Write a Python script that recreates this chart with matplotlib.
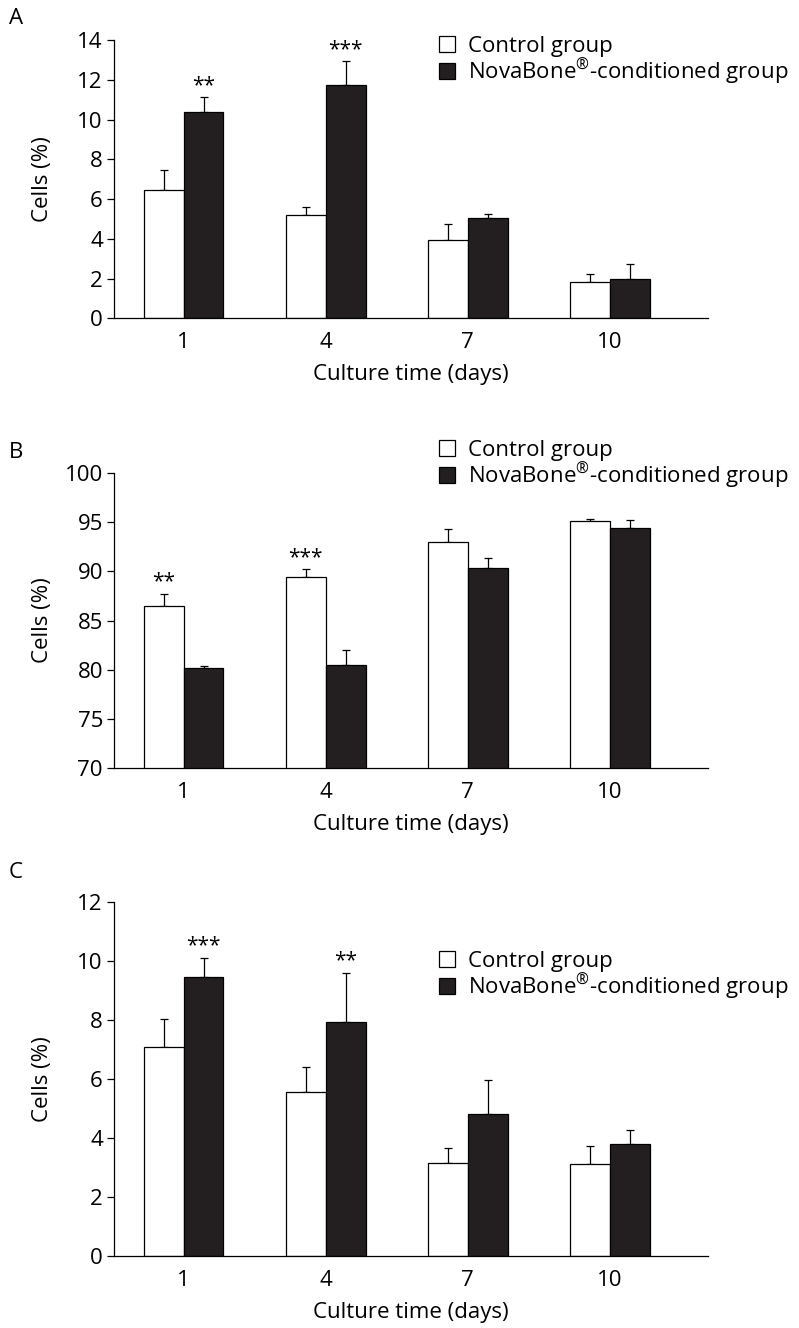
import matplotlib.pyplot as plt
import numpy as np

plt.rcParams['font.family'] = 'Open Sans'
plt.rcParams['mathtext.fontset'] = 'custom'
plt.rcParams['mathtext.rm'] = 'Open Sans'
plt.rcParams['mathtext.it'] = 'Open Sans'
plt.rcParams['font.size'] = 16

days = ['1', '4', '7', '10']

# panel A
a_ctrl = [6.45, 5.20, 3.94, 1.84]
a_ctrl_err = [0.99, 0.38, 0.79, 0.37]
a_nova = [10.39, 11.72, 5.03, 1.98]
a_nova_err = [0.73, 1.21, 0.20, 0.74]
a_stars = {('nova', 0): '**', ('nova', 1): '***'}

# panel B
b_ctrl = [86.5, 89.4, 93.0, 95.15]
b_ctrl_err = [1.2, 0.8, 1.3, 0.2]
b_nova = [80.2, 80.5, 90.4, 94.4]
b_nova_err = [0.15, 1.5, 1.0, 0.8]
b_stars = {('ctrl', 0): '**', ('ctrl', 1): '***'}

# panel C
c_ctrl = [7.08, 5.55, 3.14, 3.11]
c_ctrl_err = [0.96, 0.87, 0.51, 0.62]
c_nova = [9.48, 7.95, 4.81, 3.81]
c_nova_err = [0.64, 1.66, 1.16, 0.45]
c_stars = {('nova', 0): '***', ('nova', 1): '**'}

W, H = 799, 1328
fig = plt.figure(figsize=(W / 100, H / 100), dpi=100)

dark = '#231f20'
bw = 0.28
x = np.arange(len(days))


def panel(rect, ctrl, ctrl_err, nova, nova_err, stars, ylim, step, letter, letter_y, leg_y):
    ax = fig.add_axes(rect)
    b1 = ax.bar(x - bw / 2, ctrl, bw, color='white', edgecolor='black', linewidth=0.9,
                label='Control group', zorder=2)
    b2 = ax.bar(x + bw / 2, nova, bw, color=dark, edgecolor='black', linewidth=0.9,
                label=r'NovaBone$^{\mathrm{®}}$-conditioned group', zorder=2)
    for off, vals, errs in [(-bw / 2, ctrl, ctrl_err), (bw / 2, nova, nova_err)]:
        ax.errorbar(x + off, vals, yerr=[np.zeros(len(vals)), errs], fmt='none',
                    ecolor='black', elinewidth=0.9, capsize=3, capthick=0.9, zorder=1)
    for (grp, i), s in stars.items():
        if grp == 'ctrl':
            xx, top = x[i] - bw / 2, ctrl[i] + ctrl_err[i]
        else:
            xx, top = x[i] + bw / 2, nova[i] + nova_err[i]
        ax.annotate(s, (xx, top), xytext=(0, 1), textcoords='offset points',
                    ha='center', va='bottom', fontsize=15)
    ax.set_xlim(-0.49, 3.69)
    ax.set_ylim(*ylim)
    ax.set_yticks(np.arange(ylim[0], ylim[1] + 0.1, step))
    ax.set_xticks(x)
    ax.set_xticklabels(days)
    ax.tick_params(axis='x', length=0, pad=10)
    ax.tick_params(axis='y', length=5, width=0.9, direction='out', pad=3)
    for sp in ['top', 'right']:
        ax.spines[sp].set_visible(False)
    for sp in ['left', 'bottom']:
        ax.spines[sp].set_linewidth(0.9)
    ax.set_xlabel('Culture time (days)', labelpad=8)
    ax.set_ylabel('Cells (%)')
    ax.yaxis.set_label_coords(-0.103, 0.5)
    fig.text(16 / W, 1 - letter_y / H, letter, ha='center', va='center', fontsize=16)
    ax.legend(handles=[b1, b2], loc='center left', bbox_to_anchor=(439 / W, 1 - leg_y / H),
              bbox_transform=fig.transFigure, frameon=False, borderpad=0, borderaxespad=0,
              handlelength=0.72, handleheight=0.72, handletextpad=0.58, labelspacing=0.0,
              fontsize=16)
    return ax


left = 114 / W
width = 594 / W
panel([left, 1 - 318.3 / H, width, 278.3 / H], a_ctrl, a_ctrl_err, a_nova, a_nova_err,
      a_stars, (0, 14), 2, 'A', 18, 61)
panel([left, 1 - 767.7 / H, width, 294.4 / H], b_ctrl, b_ctrl_err, b_nova, b_nova_err,
      b_stars, (70, 100), 5, 'B', 452, 465)
panel([left, 1 - 1256 / H, width, 353.7 / H], c_ctrl, c_ctrl_err, c_nova, c_nova_err,
      c_stars, (0, 12), 2, 'C', 872, 976)

fig.savefig('out.png', dpi=100, facecolor='white')
